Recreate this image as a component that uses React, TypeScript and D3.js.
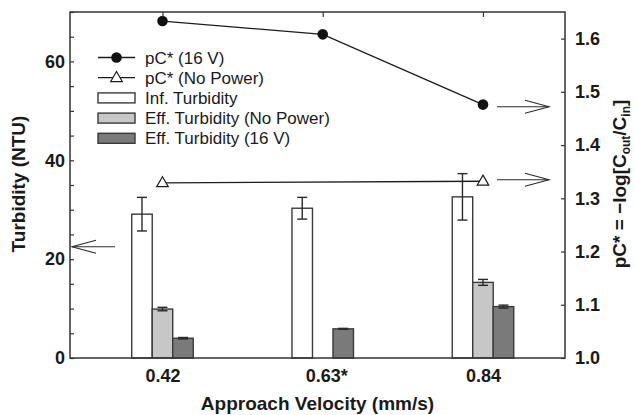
import { useRef, useEffect } from "react";
import * as d3 from "d3";

// approach velocity (mm/s) categories
const velocities = [0.42, 0.63, 0.84];
const velocityLabels = ["0.42", "0.63", "0.84"];
const velocityMarks = ["", "*", ""];

// turbidity bars (NTU), left axis
const infTurbidity = [29.1, 30.3, 32.6];
const infTurbidityErr = [3.4, 2.2, 4.7];
const effNoPower: (number | null)[] = [9.9, null, 15.3];
const effNoPowerErr: (number | null)[] = [0.35, null, 0.6];
const eff16V = [4.0, 5.9, 10.4];
const eff16VErr = [0.15, 0.1, 0.3];

// pC* lines, right axis
const pc16V = [1.633, 1.608, 1.476];
const pcNoPower: (number | null)[] = [1.329, null, 1.332];

const legendLabels = [
  "pC* (16 V)",
  "pC* (No Power)",
  "Inf. Turbidity",
  "Eff. Turbidity (No Power)",
  "Eff. Turbidity (16 V)",
];

// arrows telling which axis a series belongs to
const arrowNotes = [
  { axis: "left", value: 22.5 },
  { axis: "right", value: 1.472 },
  { axis: "right", value: 1.335 },
];

const FONT = "'Liberation Sans', Arial, Helvetica, sans-serif";

export default function App() {
  const svgRef = useRef<SVGSVGElement>(null);

  useEffect(() => {
    if (!svgRef.current) return;
    const svg = d3.select(svgRef.current);
    svg.selectAll("*").remove();

    const width = 635;
    const height = 415;
    const margin = { top: 12, right: 70, bottom: 57, left: 70 };
    const innerW = width - margin.left - margin.right;
    const innerH = height - margin.top - margin.bottom;

    svg.attr("viewBox", `0 0 ${width} ${height}`);
    const g = svg
      .append("g")
      .attr("transform", `translate(${margin.left},${margin.top})`);

    const x = d3.scaleLinear().domain([0.2988, 0.9475]).range([0, innerW]);
    const yL = d3.scaleLinear().domain([0, 70]).range([innerH, 0]);
    const yR = d3.scaleLinear().domain([1.0, 1.65]).range([innerH, 0]);

    const ink = "#1c1c1c";
    const barW = 20.5;
    const capW = 10;

    // Bars
    const series = [
      { values: infTurbidity, errs: infTurbidityErr, fill: "#ffffff", off: -1 },
      { values: effNoPower, errs: effNoPowerErr, fill: "#c7c7c7", off: 0 },
      { values: eff16V, errs: eff16VErr, fill: "#7a7a7a", off: 1 },
    ];
    series.forEach((s) => {
      const pts = velocities
        .map((v, i) => ({ v, val: s.values[i], err: s.errs[i] }))
        .filter((p) => p.val != null) as { v: number; val: number; err: number }[];
      const cx = (p: { v: number }) => x(p.v) + s.off * barW;
      g.append("g")
        .selectAll("rect")
        .data(pts)
        .join("rect")
        .attr("x", (p) => cx(p) - barW / 2)
        .attr("y", (p) => yL(p.val))
        .attr("width", barW)
        .attr("height", (p) => innerH - yL(p.val))
        .attr("fill", s.fill)
        .attr("stroke", "#3a3a3a")
        .attr("stroke-width", 1.4);
      const eb = g.append("g").attr("stroke", "#2a2a2a").attr("stroke-width", 1.4);
      eb.selectAll("line.v")
        .data(pts)
        .join("line")
        .attr("class", "v")
        .attr("x1", cx)
        .attr("x2", cx)
        .attr("y1", (p) => yL(p.val - p.err))
        .attr("y2", (p) => yL(p.val + p.err));
      [-1, 1].forEach((sign) => {
        eb.append("g")
          .selectAll("line")
          .data(pts)
          .join("line")
          .attr("x1", (p) => cx(p) - capW / 2)
          .attr("x2", (p) => cx(p) + capW / 2)
          .attr("y1", (p) => yL(p.val + sign * p.err))
          .attr("y2", (p) => yL(p.val + sign * p.err));
      });
    });

    // pC* lines
    const line = d3
      .line<{ v: number; y: number }>()
      .x((d) => x(d.v))
      .y((d) => yR(d.y));
    const p16 = velocities.map((v, i) => ({ v, y: pc16V[i] }));
    const pNo = velocities
      .map((v, i) => ({ v, y: pcNoPower[i] }))
      .filter((d) => d.y != null) as { v: number; y: number }[];

    g.append("path")
      .attr("d", line(pNo))
      .attr("fill", "none")
      .attr("stroke", ink)
      .attr("stroke-width", 1.3);
    g.append("path")
      .attr("d", line(p16))
      .attr("fill", "none")
      .attr("stroke", ink)
      .attr("stroke-width", 1.3);

    const tri = d3.symbol(d3.symbolTriangle, 58)();
    g.selectAll("path.tri")
      .data(pNo)
      .join("path")
      .attr("class", "tri")
      .attr("d", tri)
      .attr("transform", (d) => `translate(${x(d.v)},${yR(d.y) + 0.5})`)
      .attr("fill", "#fff")
      .attr("stroke", ink)
      .attr("stroke-width", 1.2);
    g.selectAll("circle.dot")
      .data(p16)
      .join("circle")
      .attr("class", "dot")
      .attr("cx", (d) => x(d.v))
      .attr("cy", (d) => yR(d.y))
      .attr("r", 5.3)
      .attr("fill", "#111");

    // Arrows
    const arrowLen = 52;
    const headLen = 24;
    const headSpread = 6.5;
    arrowNotes.forEach((a) => {
      const isLeft = a.axis === "left";
      const yy = isLeft ? yL(a.value) : yR(a.value);
      const tip = isLeft ? 2 : innerW - 16;
      const tail = isLeft ? tip + 43 : tip - arrowLen;
      const dir = isLeft ? 1 : -1;
      const ag = g.append("g").attr("stroke", "#2a2a2a").attr("stroke-width", 1.1).attr("fill", "none");
      ag.append("line").attr("x1", tail).attr("x2", tip).attr("y1", yy).attr("y2", yy);
      ag.append("path").attr(
        "d",
        `M${tip + dir * headLen},${yy - headSpread}L${tip},${yy}L${tip + dir * headLen},${yy + headSpread}`,
      );
    });

    // Axes
    const styleAxis = (sel: d3.Selection<SVGGElement, unknown, null, undefined>) => {
      sel.select(".domain").remove();
      sel.selectAll("line").attr("stroke", "#333").attr("stroke-width", 1.2);
      sel
        .selectAll("text")
        .style("font-family", FONT)
        .style("font-size", "18px")
        .style("font-weight", "bold")
        .attr("fill", "#1a1a1a");
    };

    g.append("g")
      .call(
        d3
          .axisLeft(yL)
          .tickValues(d3.range(0, 71, 5))
          .tickSize(-4)
          .tickPadding(5)
          .tickFormat((d) => (Number(d) % 20 === 0 ? String(d) : "")),
      )
      .call(styleAxis);

    g.append("g")
      .attr("transform", `translate(${innerW},0)`)
      .call(
        d3
          .axisRight(yR)
          .tickValues(d3.range(0, 7).map((i) => 1 + i / 10))
          .tickSize(-4)
          .tickPadding(10)
          .tickFormat(d3.format(".1f")),
      )
      .call(styleAxis);

    g.append("g")
      .call(d3.axisTop(x).tickValues(velocities).tickSize(-5).tickFormat(() => ""))
      .call(styleAxis);

    const bottom = g
      .append("g")
      .attr("transform", `translate(0,${innerH})`)
      .call(
        d3
          .axisBottom(x)
          .tickValues(velocities)
          .tickSize(0)
          .tickPadding(11)
          .tickFormat((_, i) => velocityLabels[i]),
      )
      .call(styleAxis);
    bottom.selectAll<SVGTextElement, number>(".tick text").each(function (_, i) {
      if (!velocityMarks[i]) return;
      const w = this.getComputedTextLength();
      d3.select(this.parentNode as SVGGElement)
        .append("text")
        .attr("x", w / 2)
        .attr("y", 11)
        .attr("dy", "0.71em")
        .attr("text-anchor", "start")
        .style("font-family", FONT)
        .style("font-size", "18px")
        .style("font-weight", "bold")
        .attr("fill", "#1a1a1a")
        .text(velocityMarks[i]);
    });

    // Frame
    g.append("rect")
      .attr("width", innerW)
      .attr("height", innerH)
      .attr("fill", "none")
      .attr("stroke", "#333")
      .attr("stroke-width", 1.5);

    // Axis titles
    const title = (sel: d3.Selection<SVGTextElement, unknown, null, undefined>) =>
      sel
        .attr("text-anchor", "middle")
        .style("font-family", FONT)
        .style("font-size", "19px")
        .style("font-weight", "bold")
        .attr("fill", "#1a1a1a");

    svg
      .append("text")
      .attr("x", margin.left + innerW / 2)
      .attr("y", 410)
      .call(title)
      .text("Approach Velocity (mm/s)");
    svg
      .append("text")
      .attr("transform", `translate(25,${margin.top + innerH / 2 - 1}) rotate(-90)`)
      .call(title)
      .text("Turbidity (NTU)");
    const rt = svg
      .append("text")
      .attr("transform", `translate(626,${margin.top + innerH / 2 - 1}) rotate(-90)`)
      .call(title);
    rt.append("tspan").text("pC* = \u2212log[C");
    rt.append("tspan").attr("dy", 4).style("font-size", "12px").text("out");
    rt.append("tspan").attr("dy", -4).text("/C");
    rt.append("tspan").attr("dy", 4).style("font-size", "12px").text("in");
    rt.append("tspan").attr("dy", -4).text("]");

    // Legend
    const legX = 98;
    const legY = 57.5;
    const legStep = 20.2;
    const symW = 37;
    const leg = g.append("g").attr("transform", `translate(${legX - margin.left},${legY - margin.top})`);
    legendLabels.forEach((label, i) => {
      const row = leg.append("g").attr("transform", `translate(0,${i * legStep})`);
      if (i < 2) {
        row.append("line").attr("x1", 0).attr("x2", symW).attr("stroke", ink).attr("stroke-width", 1.3);
        if (i === 0) {
          row.append("circle").attr("cx", symW / 2).attr("r", 5.3).attr("fill", "#111");
        } else {
          row
            .append("path")
            .attr("d", tri)
            .attr("transform", `translate(${symW / 2},0.5)`)
            .attr("fill", "#fff")
            .attr("stroke", ink)
            .attr("stroke-width", 1.2);
        }
      } else {
        row
          .append("rect")
          .attr("x", 0)
          .attr("y", -5)
          .attr("width", symW)
          .attr("height", 10)
          .attr("fill", series[i - 2].fill)
          .attr("stroke", "#3a3a3a")
          .attr("stroke-width", 1.4);
      }
      row
        .append("text")
        .attr("x", symW + 10)
        .attr("dy", "0.36em")
        .style("font-family", FONT)
        .style("font-size", "17px")
        .attr("fill", "#1a1a1a")
        .text(label);
    });

    return () => {
      svg.selectAll("*").remove();
    };
  }, []);

  return (
    <svg
      ref={svgRef}
      width={635}
      height={415}
      style={{ position: "absolute", left: 0, top: 0, background: "#fff" }}
    />
  );
}
